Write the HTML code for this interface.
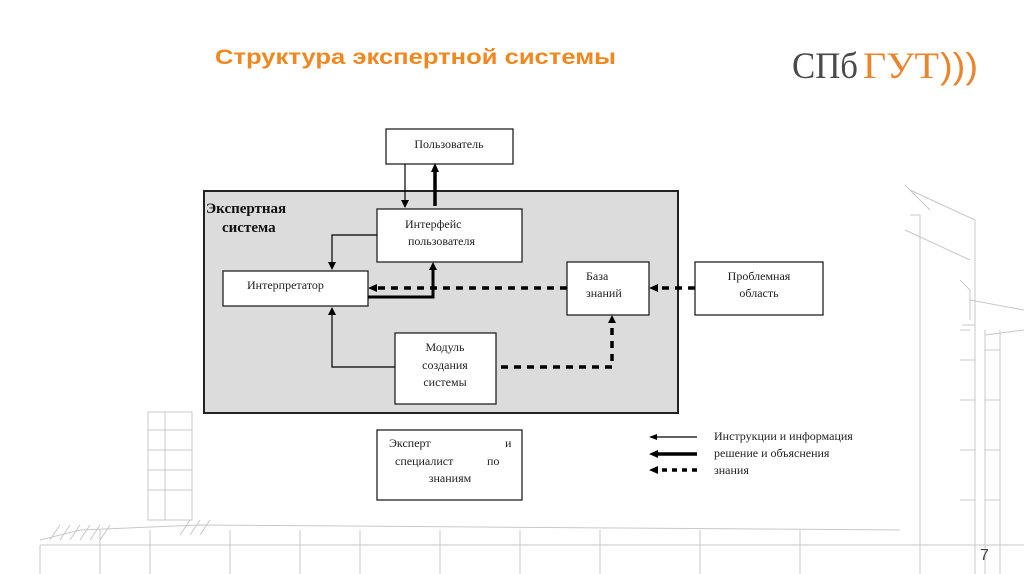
<!DOCTYPE html>
<html><head><meta charset="utf-8"><style>
html,body{margin:0;padding:0;background:#fff;}
svg{display:block;}
.s{font-family:"Liberation Serif","Noto Serif CJK SC",serif;font-size:12px;fill:#222;}
</style></head><body>
<svg width="1024" height="574" viewBox="0 0 1024 574" xmlns="http://www.w3.org/2000/svg">
<defs>
<marker id="a" markerWidth="8" markerHeight="8" refX="7" refY="4" orient="auto" markerUnits="userSpaceOnUse"><path d="M0,0 L8,4 L0,8 z" fill="#000"/></marker>
</defs>
<rect width="1024" height="574" fill="#fff"/>
<!-- faint building sketch -->
<g stroke="#c8c8c8" stroke-width="1" fill="none">
<path d="M905 185 L930 210 M905 230 L970 260 M910 190 L975 220 L975 574 M910 215 L920 215 L920 245 M920 215 L920 574 M960 280 L970 290 L970 320 M962 325 L975 325 L975 574 M985 330 L985 574 M970 300 L1024 310 M985 335 L1024 330"/>
<path d="M960 330 L970 330 M960 360 L975 360 M960 400 L975 400 M960 450 L975 450 M960 500 L975 500 M985 350 L1000 350 M985 400 L1000 400 M985 450 L1000 450 M985 500 L1000 500 M1000 330 L1000 574"/>
<path d="M148 412 L192 412 L192 520 L148 520 Z M165 412 L165 520 M148 430 L192 430 M148 450 L192 450 M148 470 L192 470 M148 490 L192 490"/>
<path d="M40 540 L80 530 L200 525 L900 530 M40 545 L1024 545 M40 545 L40 574 M100 530 L100 574 M150 530 L150 574 M230 530 L230 574 M300 530 L300 574 M360 530 L360 574 M440 530 L440 574 M520 530 L520 574 M600 530 L600 574 M700 530 L700 574 M800 530 L800 574"/>
<path d="M50 540 L60 525 M60 540 L70 525 M70 540 L80 525 M80 540 L90 525 M90 540 L100 525 M100 540 L110 525 M180 535 L190 520 M190 535 L200 520 M200 535 L210 520"/>
</g>
<!-- title -->
<text x="215" y="64" font-family="Liberation Sans,sans-serif" font-weight="bold" font-size="21" fill="#f0871f" textLength="401" lengthAdjust="spacingAndGlyphs">Структура экспертной системы</text>
<!-- logo -->
<text x="792" y="78" font-family="Liberation Serif,serif" font-size="37" fill="#4a4a4a" textLength="66" lengthAdjust="spacingAndGlyphs">СПб</text>
<text x="863" y="78" font-family="Liberation Serif,serif" font-size="37" fill="#e8852d" textLength="76" lengthAdjust="spacingAndGlyphs">ГУТ</text>
<text x="940" y="78" font-family="Liberation Sans,sans-serif" font-size="36" fill="#e8852d" textLength="38" lengthAdjust="spacingAndGlyphs">)))</text>
<!-- system gray box -->
<rect x="204" y="191" width="474" height="222" fill="#dcdcdc" stroke="#222" stroke-width="2"/>
<text x="206" y="213" font-family="Liberation Serif,serif" font-weight="bold" font-size="15" fill="#111">Экспертная</text>
<text x="222" y="232" font-family="Liberation Serif,serif" font-weight="bold" font-size="15" fill="#111">система</text>
<!-- boxes -->
<g fill="#fff" stroke="#222" stroke-width="1.3">
<rect x="386" y="129" width="127" height="35"/>
<rect x="377" y="209" width="145" height="53"/>
<rect x="223" y="271" width="145" height="35"/>
<rect x="567" y="262" width="82" height="53"/>
<rect x="695" y="262" width="128" height="53"/>
<rect x="395" y="333" width="101" height="71"/>
<rect x="377" y="430" width="145" height="70"/>
</g>
<text class="s" x="449" y="148" text-anchor="middle">Пользователь</text>
<text class="s" x="405" y="228">Интерфейс</text>
<text class="s" x="408" y="245">пользователя</text>
<text class="s" x="247" y="289">Интерпретатор</text>
<text class="s" x="586" y="280">База</text>
<text class="s" x="586" y="297">знаний</text>
<text class="s" x="759" y="280" text-anchor="middle">Проблемная</text>
<text class="s" x="759" y="297" text-anchor="middle">область</text>
<text class="s" x="445" y="351" text-anchor="middle">Модуль</text>
<text class="s" x="445" y="369" text-anchor="middle">создания</text>
<text class="s" x="445" y="386" text-anchor="middle">системы</text>
<text class="s" x="389" y="447">Эксперт</text>
<text class="s" x="505" y="447">и</text>
<text class="s" x="395" y="465">специалист</text>
<text class="s" x="487" y="465">по</text>
<text class="s" x="450" y="482" text-anchor="middle">знаниям</text>
<!-- connectors -->
<g stroke="#000" fill="none">
<line x1="405" y1="164" x2="405" y2="207" stroke-width="1.2" marker-end="url(#a)"/>
<line x1="435" y1="206" x2="435" y2="168" stroke-width="3.5"/>
<path d="M431,172 L435,163 L439,172 z" fill="#000" stroke="none"/>
<path d="M377,235 L332,235 L332,269" stroke-width="1.2" marker-end="url(#a)"/>
<path d="M368,297 L433,297 L433,266" stroke-width="3"/>
<path d="M429,270 L433,262 L437,270 z" fill="#000" stroke="none"/>
<line x1="567" y1="288" x2="376" y2="288" stroke-width="3.5" stroke-dasharray="7,6"/>
<path d="M377,284 L368,288 L377,292 z" fill="#000" stroke="none"/>
<line x1="695" y1="288" x2="657" y2="288" stroke-width="3.5" stroke-dasharray="7,6"/>
<path d="M658,284 L649,288 L658,292 z" fill="#000" stroke="none"/>
<path d="M395,367 L332,367 L332,308" stroke-width="1.2" marker-end="url(#a)"/>
<path d="M501,367 L612,367 L612,322" stroke-width="3.5" stroke-dasharray="7,6"/>
<path d="M608,323 L612,315 L616,323 z" fill="#000" stroke="none"/>
<!-- legend -->
<line x1="697" y1="437" x2="656" y2="437" stroke-width="1.2"/>
<path d="M657,434 L649,437 L657,440 z" fill="#000" stroke="none"/>
<line x1="697" y1="454" x2="656" y2="454" stroke-width="3.5"/>
<path d="M658,450 L649,454 L658,458 z" fill="#000" stroke="none"/>
<line x1="697" y1="470" x2="658" y2="470" stroke-width="3.5" stroke-dasharray="5,5"/>
<path d="M658,466 L649,470 L658,474 z" fill="#000" stroke="none"/>
</g>
<text class="s" x="714" y="440">Инструкции и информация</text>
<text class="s" x="714" y="457">решение и объяснения</text>
<text class="s" x="714" y="474">знания</text>
<text x="980" y="560" font-family="Liberation Sans,sans-serif" font-size="16" fill="#444">7</text>
</svg>
</body></html>
